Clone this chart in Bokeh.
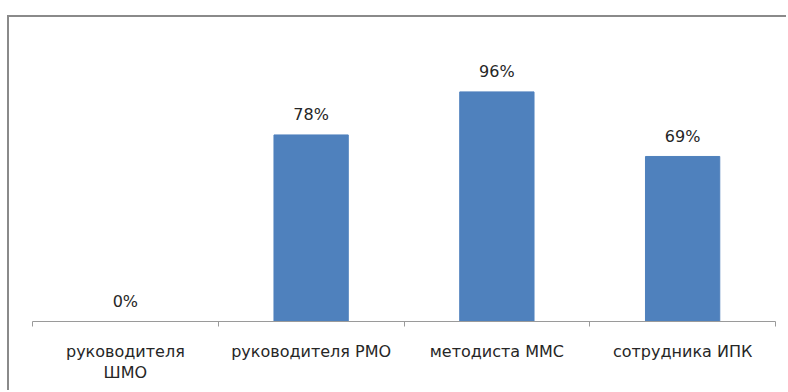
from bokeh.plotting import figure
from bokeh.models import ColumnDataSource, FixedTicker, Range1d
from bokeh.core.properties import value
from bokeh.embed import file_html
from bokeh.resources import INLINE

# Share of respondents by position
categories = ["руководителя\nШМО", "руководителя РМО", "методиста ММС", "сотрудника ИПК"]
values = [0, 78, 96, 69]
value_labels = ["0%", "78%", "96%", "69%"]

positions = [i + 0.5 for i in range(len(categories))]
source = ColumnDataSource(dict(x=positions, top=values, label=value_labels))

FONT = "DejaVu Sans"

p = figure(
    width=779, height=375,
    x_range=Range1d(0, len(categories)), y_range=Range1d(0, 120),
    output_backend="svg", toolbar_location=None,
    min_border_left=23, min_border_right=13, min_border_top=17, min_border_bottom=71,
)
p.margin = (17, 0, 0, 9)
p.styles = {"box-shadow": "-2px -2px 0 0 #8a8a8a"}

p.vbar(x="x", top="top", width=0.4, bottom=0, source=source,
       fill_color="#4f81bd", line_color="#4f81bd")

# value labels above each bar
p.text(x="x", y="top", text="label", source=source,
       text_align="center", text_baseline="alphabetic", y_offset=-20,
       text_font=value(FONT), text_font_size="16px", text_color="#262626")

p.yaxis.visible = False
p.grid.visible = False
p.outline_line_color = None

ax = p.xaxis[0]
ax.ticker = FixedTicker(ticks=positions, minor_ticks=list(range(len(categories) + 1)))
ax.major_label_overrides = {pos: name for pos, name in zip(positions, categories)}
ax.major_tick_out = 0
ax.major_tick_in = 0
ax.minor_tick_out = 5
ax.minor_tick_in = 0
ax.minor_tick_line_color = "#9a9a9a"
ax.axis_line_color = "#9a9a9a"
ax.major_label_standoff = 15
ax.major_label_text_font = FONT
ax.major_label_text_font_size = "16px"
ax.major_label_text_line_height = 1.15
ax.major_label_text_color = "#262626"

open("out.html", "w").write(file_html(p, INLINE))
